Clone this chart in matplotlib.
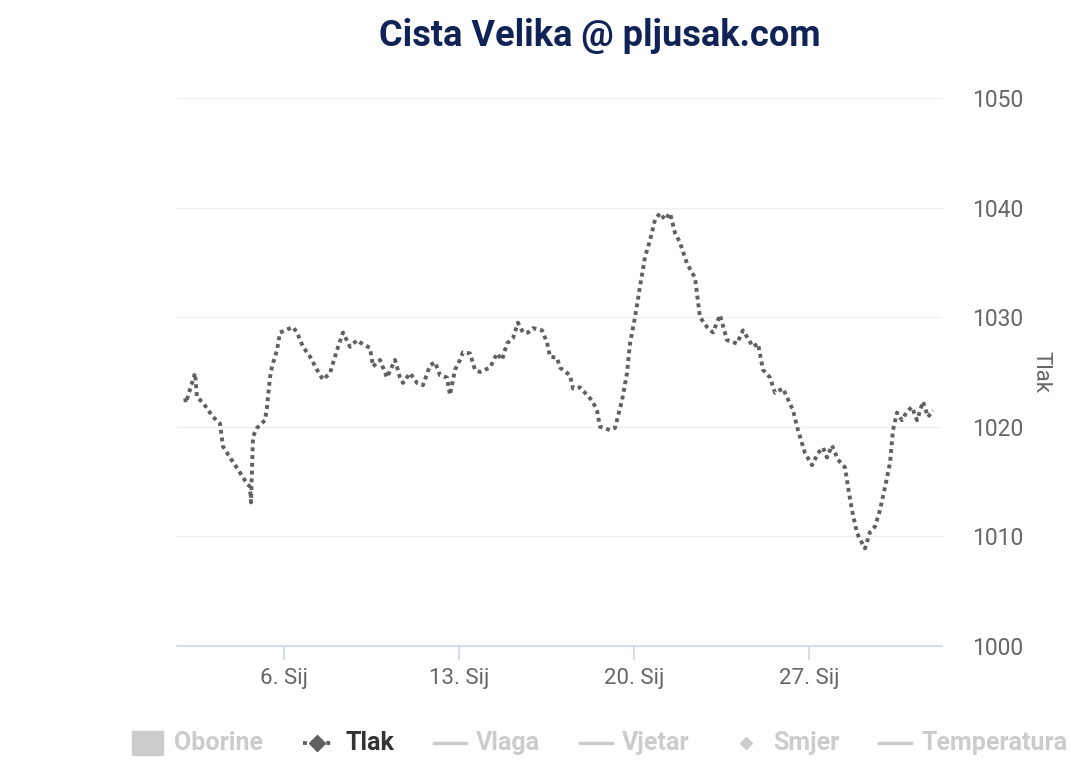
import matplotlib
matplotlib.use("Agg")
import matplotlib.pyplot as plt
from matplotlib.lines import Line2D
from matplotlib.patches import Rectangle

plt.rcParams['font.family'] = ['Roboto', 'DejaVu Sans']

# time in days of January (Sij), pressure in hPa
days = [2.04, 2.08, 2.44, 2.52, 2.76, 3.16, 3.44, 3.56, 3.84, 4.16, 4.44, 4.64, 4.68, 4.76, 4.92,
        5.24, 5.32, 5.44, 5.52, 5.72, 5.84, 6.04, 6.36, 6.52, 6.76, 7.04, 7.32, 7.56, 7.84, 8.12,
        8.36, 8.64, 8.92, 9.04, 9.44, 9.56, 9.84, 10.12, 10.44, 10.64, 10.76, 11.04, 11.32, 11.56,
        11.84, 12.04, 12.24, 12.52, 12.64, 12.84, 13.04, 13.16, 13.44, 13.64, 13.84, 14.24, 14.52,
        14.72, 14.92, 15.16, 15.36, 15.56, 15.76, 15.96, 16.32, 16.52, 16.64, 16.92, 17.04, 17.44,
        17.56, 17.84, 18.12, 18.32, 18.52, 18.64, 19.04, 19.24, 19.52, 19.72, 19.84, 20.04, 20.24,
        20.44, 20.64, 20.84, 21.04, 21.24, 21.44, 21.64, 21.84, 22.12, 22.44, 22.64, 22.92, 23.16,
        23.44, 23.72, 24.12, 24.36, 24.76, 24.96, 25.16, 25.44, 25.64, 25.96, 26.36, 26.56, 26.84,
        27.12, 27.36, 27.56, 27.72, 27.92, 28.16, 28.44, 28.56, 28.72, 28.92, 29.12, 29.24, 29.44,
        29.64, 29.84, 30.04, 30.24, 30.36, 30.52, 30.72, 30.92, 31.12, 31.32, 31.56, 31.76, 31.96]
tlak = [1022.6, 1022.2, 1024.9, 1022.7, 1022.2, 1020.9, 1020.3, 1018.2, 1017.2, 1016.1, 1015.1,
        1014.5, 1013.1, 1019.1, 1019.9, 1020.6, 1021.8, 1024.5, 1025.5, 1027.0, 1028.6, 1028.8,
        1029.1, 1028.6, 1027.3, 1026.4, 1025.2, 1024.3, 1024.9, 1027.0, 1028.6, 1027.3, 1027.9,
        1027.7, 1027.2, 1025.5, 1026.1, 1024.5, 1026.1, 1024.5, 1024.0, 1024.9, 1024.0, 1023.8,
        1025.6, 1025.9, 1024.7, 1024.5, 1022.9, 1025.2, 1026.1, 1026.8, 1026.7, 1025.2, 1025.0,
        1025.4, 1026.7, 1026.1, 1027.6, 1028.1, 1029.5, 1028.6, 1028.6, 1029.0, 1028.8, 1027.7,
        1026.4, 1026.3, 1025.4, 1024.7, 1023.5, 1023.6, 1022.9, 1022.4, 1021.5, 1020.0, 1019.7,
        1019.9, 1022.4, 1024.9, 1027.6, 1030.0, 1032.8, 1035.5, 1037.0, 1038.9, 1039.5, 1038.9,
        1039.5, 1037.7, 1036.8, 1034.9, 1033.6, 1030.0, 1029.1, 1028.6, 1030.2, 1027.9, 1027.6,
        1028.8, 1027.3, 1027.6, 1025.2, 1024.5, 1023.1, 1023.5, 1021.5, 1019.7, 1017.6, 1016.5,
        1017.6, 1018.1, 1017.2, 1018.3, 1017.0, 1016.3, 1014.5, 1012.4, 1010.3, 1009.4, 1008.9,
        1010.4, 1010.9, 1012.4, 1014.5, 1016.7, 1019.7, 1021.3, 1020.6, 1021.4, 1021.8, 1020.6,
        1022.3, 1020.9, 1021.5]

x_ticks = [6, 13, 20, 27]
x_labels = ["6. Sij", "13. Sij", "20. Sij", "27. Sij"]
y_ticks = [1000, 1010, 1020, 1030, 1040, 1050]

legend_names = ["Oborine", "Tlak", "Vlaga", "Vjetar", "Smjer", "Temperatura"]

W, H = 1071, 763
fig = plt.figure(figsize=(W / 100, H / 100), dpi=100)
ax = fig.add_axes([177 / W, 1 - 646 / H, 765 / W, 548 / H])

ax.plot(days, tlak, color="#606060", lw=2.8, linestyle=(0, (1, 1.0)),
        dash_capstyle="butt", solid_joinstyle="miter")

ax.set_xlim(1.72, 32.32)
ax.set_ylim(1000, 1050)

for s in ["top", "left", "right"]:
    ax.spines[s].set_visible(False)
ax.spines["bottom"].set_color("#ccd6eb")
ax.spines["bottom"].set_linewidth(1.2)

ax.set_yticks(y_ticks)
ax.yaxis.tick_right()
ax.yaxis.set_label_position("right")
ax.tick_params(axis="y", length=0, pad=22, labelsize=16.5, labelcolor="#666666")
ax.set_yticklabels([str(v) for v in y_ticks])
ax.grid(axis="y", color="#f0f0f0", lw=1)
ax.set_axisbelow(True)

ax.set_xticks(x_ticks)
ax.set_xticklabels(x_labels)
ax.tick_params(axis="x", length=10, width=1.2, color="#ccd6eb", pad=6,
               labelsize=16, labelcolor="#666666")

ax.set_ylabel("Tlak", rotation=270, color="#666666", fontsize=16, labelpad=20)

fig.text(600 / W, 1 - 36 / H, "Cista Velika @ pljusak.com", ha="center", va="center",
         fontsize=26, fontweight="bold", color="#0f2356")

# legend drawn by hand along the bottom
ly = 1 - 743 / H
grey = "#cccccc"
fig.add_artist(Rectangle((132 / W, 1 - 755 / H), 31 / W, 24 / H, transform=fig.transFigure,
                         color=grey))
fig.add_artist(Line2D([303 / W, 331 / W], [ly, ly], transform=fig.transFigure, color="#606060",
                      lw=2.8, linestyle=(0, (1, 1.0))))
fig.add_artist(Line2D([317 / W], [ly], transform=fig.transFigure, marker="D", ms=8,
                      color="#606060"))
for x0 in [434, 580, 879]:
    fig.add_artist(Line2D([x0 / W, (x0 + 32) / W], [ly, ly], transform=fig.transFigure,
                          color=grey, lw=2.5))
fig.add_artist(Line2D([746 / W], [ly], transform=fig.transFigure, marker="D", ms=6,
                      color=grey))
text_x = [174, 345, 476, 622, 773, 922]
for name, tx in zip(legend_names, text_x):
    fig.text(tx / W, ly, name, ha="left", va="center", fontsize=18, fontweight="bold",
             color="#333333" if name == "Tlak" else grey)

fig.savefig("out.png", dpi=100, facecolor="white")
